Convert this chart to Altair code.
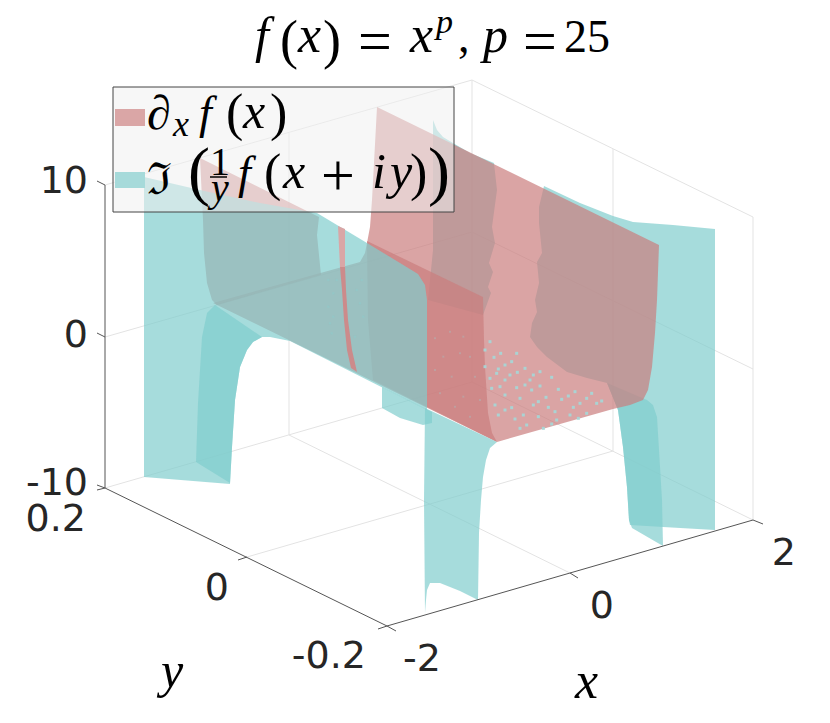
import altair as alt
import pandas as pd

W, H = 814, 707
XS = alt.Scale(domain=[8, 822], nice=False, zero=False)
YS = alt.Scale(domain=[715, 8], nice=False, zero=False)

TEAL = "#80cdcd"
RED = "#ca7e7e"

# --- surfaces (outline points, picture coordinates)
TEAL_BACK_A = [(433,93),(433,120),(437,130),(443,137),(453,143),(470,153),(494,163),(497,190),(492,227),(495,243),(489,263),(493,272),(488,287),(491,293),(483,315),(428,300),(433,250)]
TEAL_BACK_B = [(544,186),(580,203),(613,216),(633,222),(673,225),(715,229),(715,530),(663,527),(630,525),(629,520),(627,487),(623,447),(618,410),(607,383),(587,378),(567,372),(547,357),(537,347),(530,337),(532,323),(537,312),(535,300),(539,283),(537,262),(542,253),(539,223),(539,207)]
TEAL_RIGHT_LEG = [(607,383),(647,400),(653,405),(657,417),(659,450),(662,500),(663,546),(632,528),(629,520),(627,487),(623,447),(618,410)]
TEAL_MID_SPOT = [(382,387),(432,412),(432,423),(423,425),(400,418),(382,408)]

RED_MAIN = [(377,107),(659,245),(657,300),(655,333),(652,367),(648,390),(643,400),(630,405),(613,409),(497,442),(213,303),(360,262),(365,253),(367,243),(370,227),(372,200)]
RED_LEFT_A = [(200,158),(319,217),(317,235),(321,275),(217,305),(212,300),(207,283),(204,253),(203,220)]
RED_LEFT_B = [(367,241),(483,297),(484,340),(485,367),(488,413),(492,433),(497,442),(373,380),(368,320)]

TEAL_LEFT = [(144,177),(200,190),(260,203),(317,213),(367,243),(400,263),(418,274),(425,285),(427,300),(427,410),(290,341),(270,337),(262,337),(253,342),(247,350),(240,367),(235,400),(232,447),(230,484),(144,477)]
TEAL_LEFT_LEG = [(196,462),(230,483),(232,447),(235,400),(240,367),(247,350),(253,342),(262,337),(215,305),(207,313),(202,337),(198,403)]
TEAL_FRONT_LEG = [(425,408),(497,442),(490,448),(486,460),(483,477),(481,500),(479,533),(478,600),(460,591),(440,583),(430,583),(427,590),(426,600),(425,613),(424,500)]

STRIPE_UPPER = [(338,226),(345,229),(345,267),(340,267)]
STRIPE_LOWER = [(340,267),(345,267),(346,290),(348,320),(352,350),(357,372),(351,368),(347,350),(344,320),(342,290)]

# (outline, colour, opacity), back to front
SURFACES = [
    (TEAL_BACK_A, TEAL, 0.7), (TEAL_BACK_B, TEAL, 0.7), (TEAL_RIGHT_LEG, TEAL, 0.7),
    (RED_MAIN, RED, 0.7), (RED_LEFT_A, RED, 0.7), (RED_LEFT_B, RED, 0.7),
    (TEAL_MID_SPOT, TEAL, 0.7), (TEAL_LEFT, TEAL, 0.7), (TEAL_LEFT_LEG, TEAL, 0.7),
    (TEAL_FRONT_LEG, TEAL, 0.7),
    (STRIPE_UPPER, "#d9a6a6", 1.0), (STRIPE_LOWER, "#cc8b8b", 1.0),
]

DOTS_FLOOR = [(30,65),(15,90),(42,112),(62,100),(15,140),(55,147),(75,135),(95,125),(110,100),(30,175),(50,160),(75,180),(90,165),(112,157),(135,145),(160,165),(150,180),(180,155),(215,172),(35,205),(60,200),(110,203),(135,195),(155,210),(180,198),(235,208),(285,215),(120,235),(75,225),(160,255),(175,245),(198,232),(245,238),(265,228),(320,235),(335,220),(365,243),(45,255),(95,263),(55,285),(105,297),(130,285),(175,290),(205,262),(225,275),(280,262),(300,250),(350,250),(230,300),(215,312),(120,325),(140,315),(75,270),(190,325),(295,295),(320,280),(270,285)]
DOTS_BAND = [(85,60),(100,100),(85,140),(100,170),(170,90),(180,130),(190,170),(95,220),(165,230),(110,60),(185,60),(90,190)]
DOTS_DARK = [(210,95),(165,115),(250,110),(190,170),(240,160),(165,210),(270,170),(215,230),(285,230),(180,280),(250,290),(300,300),(225,320),(270,350)]

GRID = [(105,337,472,232),(472,232,753,369),(105,185,472,80),(472,80,753,217),(105,488,472,382),(472,382,753,520),
        (472,80,472,382),(753,217,753,520),(289,133,289,435),(613,149,613,451),
        (247,557,613,451),(289,435,570,573)]
AXES = [(105,185,105,488),(105,488,387,626),(387,626,753,520)]
TICKS = [(97,181,105,185),(97,333,105,337),(97,485,105,488),(97,490,105,488),(238,560,247,557),(378,629,387,626),
         (387,626,396,631),(570,573,578,578),(753,520,763,524)]
LEGEND_BOX = (113, 87, 454, 212)
LEGEND_RED = (115, 109, 145, 126)
LEGEND_TEAL = (115, 172, 145, 188)
FRACTION_BAR = [(210,177,227,177)]

AXIS_TEXT = [("10",88,193),("0",88,347),("-10",88,495),("0.2",86,531),("0",229,600),("-0.2",366,668),("-2",441,671),("0",614,618),("2",796,565)]

# text, left x, baseline y, size
MATH_ITALIC = [("f",255,52,50),("x",298,52,52),("x",410,52,52),("p",436,33,34),("p",483,52,50),
               ("y",161,687,50),("x",575,698,52),
               ("x",173,136,36),("f",199,128,46),("x",243,128,50),
               ("y",211,201,40),("f",238,188,46),("x",283,188,50),("i",372,188,50),("y",390,188,50)]
MATH_ROMAN = [("(",280,58,54),(")",323,58,54),("=",358,61,60),(",",458,52,46),("=",523,61,60),("25",564,52,46),
              ("(",226,130,52),(")",270,130,52),
              ("1",210,175,40),("(",264,190,52),("+",321,195,60),(")",410,190,52),
              ("(",188,193,66),(")",428,193,66),("∂",147,129,48)]
MATH_FRAKTUR = [("ℑ",147,194,44)]


def poly(points, colour, opacity):
    df = pd.DataFrame(points + points[:1], columns=["x", "y"])
    df["i"] = range(len(df))
    return alt.Chart(df).mark_line(fill=colour, fillOpacity=opacity, strokeOpacity=0, strokeWidth=0, interpolate="linear-closed").encode(
        x=alt.X("x:Q", scale=XS, axis=None), y=alt.Y("y:Q", scale=YS, axis=None), order="i:Q")


def segs(rows, colour, width):
    df = pd.DataFrame(rows, columns=["x", "y", "x2", "y2"])
    return alt.Chart(df).mark_rule(color=colour, strokeWidth=width).encode(
        x=alt.X("x:Q", scale=XS, axis=None), y=alt.Y("y:Q", scale=YS, axis=None), x2="x2:Q", y2="y2:Q")


def box(b, fill, opacity, stroke=None):
    df = pd.DataFrame([dict(x=b[0], y=b[1], x2=b[2], y2=b[3])])
    kw = dict(stroke=stroke, strokeWidth=1) if stroke else {}
    return alt.Chart(df).mark_rect(fill=fill, fillOpacity=opacity, **kw).encode(
        x=alt.X("x:Q", scale=XS, axis=None), y=alt.Y("y:Q", scale=YS, axis=None), x2="x2:Q", y2="y2:Q")


def dots(rows, ox, oy, colour, size, opacity):
    df = pd.DataFrame([(ox + a / 3, oy + b / 3) for a, b in rows], columns=["x", "y"])
    return alt.Chart(df).mark_point(shape="square", filled=True, color=colour, size=size, opacity=opacity, strokeWidth=0).encode(
        x=alt.X("x:Q", scale=XS, axis=None), y=alt.Y("y:Q", scale=YS, axis=None))


def texts(rows, font, style=None, colour="black", align="left"):
    df = pd.DataFrame(rows, columns=["t", "x", "y", "s"])
    kw = dict(fontStyle=style) if style else {}
    return alt.Chart(df).mark_text(font=font, color=colour, align=align, baseline="alphabetic", **kw).encode(
        x=alt.X("x:Q", scale=XS, axis=None), y=alt.Y("y:Q", scale=YS, axis=None),
        text="t:N", size=alt.Size("s:Q", scale=None, legend=None))


axis_text_rows = [(t, x, y, 38) for t, x, y in AXIS_TEXT]

layers = [segs(GRID, "#e3e3e3", 1)]
layers += [poly(p, c, o) for p, c, o in SURFACES]
layers += [dots(DOTS_FLOOR, 480, 320, "#a8d6d6", 9, 0.95), dots(DOTS_BAND, 300, 260, "#8fcaca", 5, 0.6), dots(DOTS_DARK, 380, 300, "#b8a8a8", 4, 0.7)]
layers += [segs(AXES, "#555555", 1), segs(TICKS, "#555555", 1)]
layers += [box(LEGEND_BOX, "#f0f0f0", 0.55, "#444444"), box(LEGEND_RED, "#daa6a6", 1), box(LEGEND_TEAL, "#a6dada", 1)]
layers += [segs(FRACTION_BAR, "black", 1.5)]
layers += [texts(axis_text_rows, "DejaVu Sans", colour="#262626", align="right")]
layers += [texts(MATH_ITALIC, "Liberation Serif", "italic"), texts(MATH_ROMAN, "Liberation Serif"), texts(MATH_FRAKTUR, "DejaVu Serif")]

chart = alt.layer(*layers).properties(width=W, height=H, padding=0, autosize=alt.AutoSizeParams(type="none")).configure_view(stroke=None)
chart.save("out.html", embed_options={"renderer": "svg", "actions": False})
